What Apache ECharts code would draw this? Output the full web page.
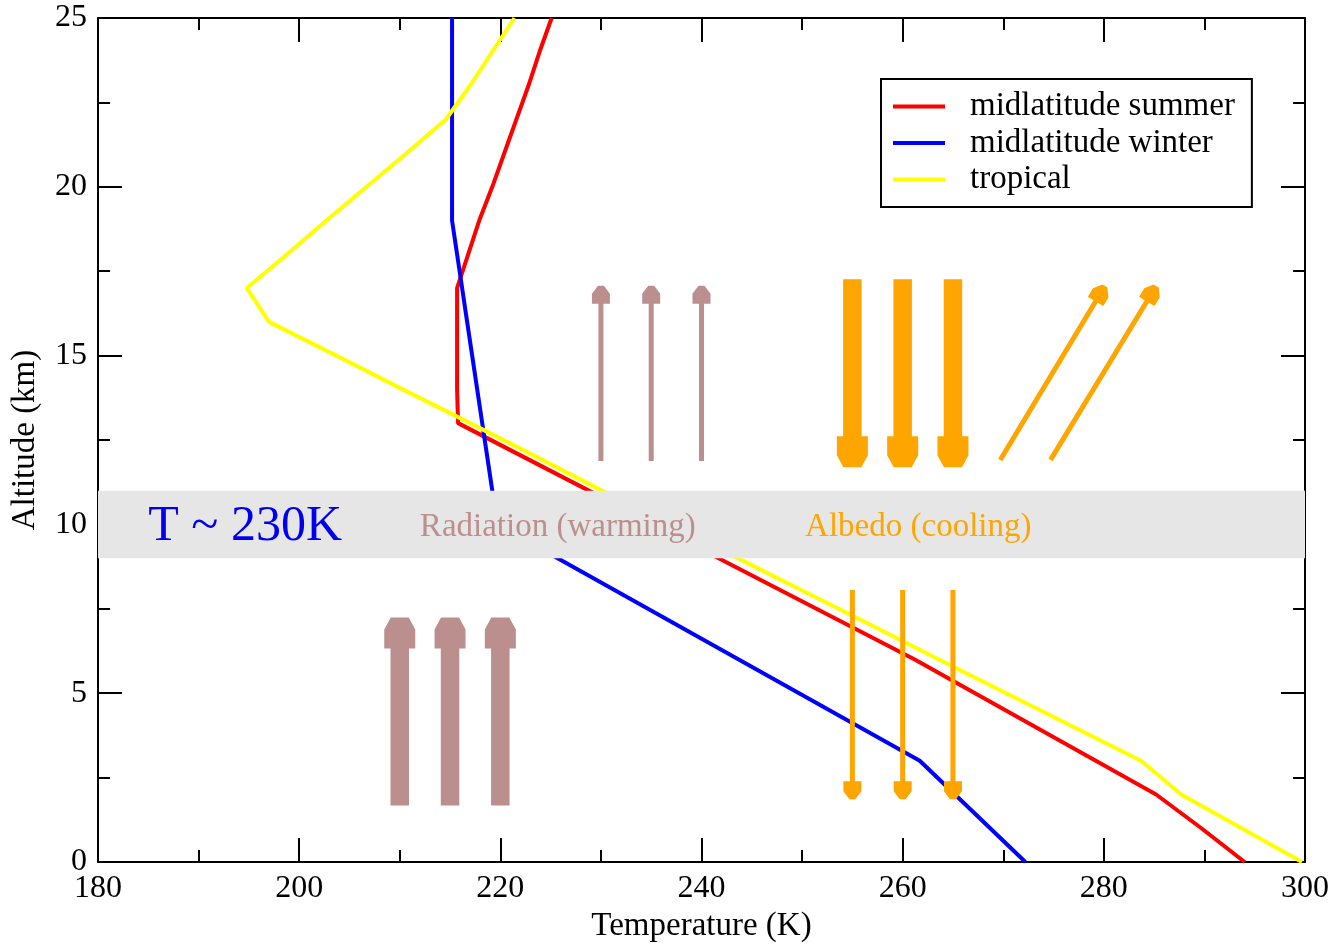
<!DOCTYPE html>
<html>
<head>
<meta charset="utf-8">
<script src="https://cdn.jsdelivr.net/npm/echarts@6/dist/echarts.min.js"></script>
<style>
html,body{margin:0;padding:0;background:#fff;}
#chart{width:1332px;height:944px;}
</style>
</head>
<body>
<div id="chart"></div>
<script>
// ---- data ----
const altitudes = [0,1,2,3,4,5,6,7,8,9,10,11,12,13,14,15,16,17,18,19,20,21,22,23,24,25];
const midSummer = [294.0,289.7,285.2,279.2,273.2,267.2,261.2,254.7,248.2,241.7,235.3,228.8,222.3,215.8,215.7,215.7,215.7,215.7,216.8,217.9,219.2,220.4,221.6,222.8,223.9,225.1];
const midWinter = [272.2,268.7,265.2,261.7,255.7,249.7,243.7,237.7,231.7,225.7,219.7,219.2,218.7,218.2,217.7,217.2,216.7,216.2,215.7,215.2,215.2,215.2,215.2,215.2,215.2,215.2];
const tropical  = [299.7,293.7,287.7,283.7,277.0,270.3,263.6,257.0,250.3,243.6,237.0,230.1,223.6,217.0,210.3,203.7,197.0,194.8,198.8,202.7,206.7,210.7,214.6,217.0,219.2,221.4];
const seriesNames = ['midlatitude summer','midlatitude winter','tropical'];
const xTicks = [180,200,220,240,260,280,300];
const yTicks = [0,5,10,15,20,25];
const bandAltitudes = [9, 11];
const bandLabels = ['T ~ 230K','Radiation (warming)','Albedo (cooling)'];
const bandLabelT = [185, 212, 250.3];
const bandLabelZ = [9.92, 9.92, 9.92];
// arrows: [T tail, z tail, T tip, z tip]
const radiationBigArrows   = [[210,1.67,210,7.24],[215,1.67,215,7.24],[220,1.67,220,7.24]];
const radiationSmallArrows = [[230,11.88,230,17.07],[235,11.88,235,17.07],[240,11.88,240,17.07]];
const albedoBigArrows      = [[255,17.26,255,11.69],[260,17.26,260,11.69],[265,17.26,265,11.69]];
const albedoSmallArrows    = [[255,8.06,255,1.86],[260,8.06,260,1.86],[265,8.06,265,1.86]];
const albedoReflectArrows  = [[269.7,11.91,280.1,17.06],[274.7,11.91,285.2,17.06]];

// ---- chart ----
const FONT = '"Liberation Serif", serif';
const pairs = v => v.map((t,i)=>[t, altitudes[i]]);
const chart = echarts.init(document.getElementById('chart'), null, {renderer:'canvas'});

function arrowPoints(p1, p2, s){
  const dx=p2[0]-p1[0], dy=p2[1]-p1[1];
  const len=Math.hypot(dx,dy);
  const ux=dx/len, uy=dy/len, nx=-uy, ny=ux;
  const pts=[[0,-s.shaft/2],[len-s.headLen,-s.shaft/2],[len-s.headLen,-s.head/2],[len-s.bevel,-s.head/2],[len,-s.tip/2],
             [len,s.tip/2],[len-s.bevel,s.head/2],[len-s.headLen,s.head/2],[len-s.headLen,s.shaft/2],[0,s.shaft/2]];
  return pts.map(([a,b])=>[p1[0]+ux*a+nx*b, p1[1]+uy*a+ny*b]);
}
const bigStyle   = {shaft:18.5, head:31, headLen:31, bevel:12, tip:18};
const smallStyle = {shaft:5, head:18, headLen:18, bevel:8, tip:6};
function arrowSeries(data, style, color){
  return {
    type:'custom', z:4, silent:true,
    data:data,
    encode:{x:[0,2], y:[1,3]},
    renderItem:function(params, api){
      const p1=api.coord([api.value(0),api.value(1)]);
      const p2=api.coord([api.value(2),api.value(3)]);
      return {type:'polygon', shape:{points:arrowPoints(p1,p2,style)}, style:{fill:color}};
    }
  };
}
const labelStyles = [
  {font:'50px "Liberation Serif", serif', fill:'#0000ee'},
  {font:'33px "Liberation Serif", serif', fill:'#bc8f8f'},
  {font:'33px "Liberation Serif", serif', fill:'#ffa500'}
];
const tickCommon = {
  axisLine:{show:true, onZero:false, lineStyle:{color:'#000', width:2}},
  axisTick:{show:true, inside:true, length:24, lineStyle:{color:'#000', width:2}},
  minorTick:{show:true, splitNumber:2, length:12, lineStyle:{color:'#000', width:2}},
  splitLine:{show:false}, minorSplitLine:{show:false}
};
const xMin = xTicks[0], xMax = xTicks[xTicks.length-1];
const yMin = yTicks[0], yMax = yTicks[yTicks.length-1];

const option = {
  backgroundColor:'#fff',
  animation:false,
  grid:{left:98, right:27, top:18, bottom:82, containLabel:false, outerBoundsMode:'none'},
  legend:{
    orient:'vertical', left:881, top:79,
    data:seriesNames,
    icon:'rect', itemWidth:52, itemHeight:4, itemGap:3.5,
    padding:[11,17,11,12],
    backgroundColor:'#fff', borderColor:'#000', borderWidth:2,
    textStyle:{fontFamily:FONT, fontSize:33, color:'#000', lineHeight:33, padding:[0,0,0,20]},
    selectedMode:false
  },
  xAxis:[
    Object.assign({type:'value', position:'bottom', min:xMin, max:xMax, interval:20,
      name:'Temperature (K)', nameLocation:'middle', nameGap:46,
      nameTextStyle:{fontFamily:FONT, fontSize:33, lineHeight:33, color:'#000'},
      axisLabel:{fontFamily:FONT, fontSize:32, lineHeight:32, color:'#000', margin:11}}, tickCommon),
    Object.assign({type:'value', position:'top', min:xMin, max:xMax, interval:20,
      axisLabel:{show:false}}, tickCommon)
  ],
  yAxis:[
    Object.assign({type:'value', position:'left', min:yMin, max:yMax, interval:5,
      name:'Altitude (km)', nameLocation:'middle', nameGap:56,
      nameTextStyle:{fontFamily:FONT, fontSize:33, lineHeight:33, color:'#000'},
      axisLabel:{fontFamily:FONT, fontSize:32, lineHeight:32, color:'#000', margin:11}}, tickCommon),
    Object.assign({type:'value', position:'right', min:yMin, max:yMax, interval:5,
      axisLabel:{show:false}}, tickCommon)
  ],
  series:[
    {name:seriesNames[0], type:'line', data:pairs(midSummer), symbol:'none', z:2, color:'#ff0000', lineStyle:{width:4, color:'#ff0000'}},
    {name:seriesNames[1], type:'line', data:pairs(midWinter), symbol:'none', z:2, color:'#0000ff', lineStyle:{width:4, color:'#0000ff'}},
    {name:seriesNames[2], type:'line', data:pairs(tropical), symbol:'none', z:2, color:'#ffff00', lineStyle:{width:4, color:'#ffff00'}},
    {
      type:'custom', z:3, silent:true,
      data:[bandAltitudes],
      encode:{y:[0,1]},
      renderItem:function(params, api){
        const a=api.coord([xMin, api.value(1)]);
        const b=api.coord([xMax, api.value(0)]);
        return {type:'rect', shape:{x:a[0], y:a[1], width:b[0]-a[0], height:b[1]-a[1]}, style:{fill:'#e6e6e6'}};
      }
    },
    arrowSeries(radiationBigArrows, bigStyle, '#bc8f8f'),
    arrowSeries(radiationSmallArrows, smallStyle, '#bc8f8f'),
    arrowSeries(albedoBigArrows, bigStyle, '#ffa500'),
    arrowSeries(albedoSmallArrows, smallStyle, '#ffa500'),
    arrowSeries(albedoReflectArrows, smallStyle, '#ffa500'),
    {
      type:'custom', z:5, silent:true,
      data:bandLabelT.map((t,i)=>[t, bandLabelZ[i], i]),
      encode:{x:0, y:1},
      renderItem:function(params, api){
        const p=api.coord([api.value(0), api.value(1)]);
        const st=labelStyles[api.value(2)];
        return {type:'text', x:p[0], y:p[1],
          style:{text:bandLabels[api.value(2)], font:st.font, fill:st.fill, align:'left', verticalAlign:'middle'}};
      }
    }
  ]
};
chart.setOption(option);
</script>
</body>
</html>
